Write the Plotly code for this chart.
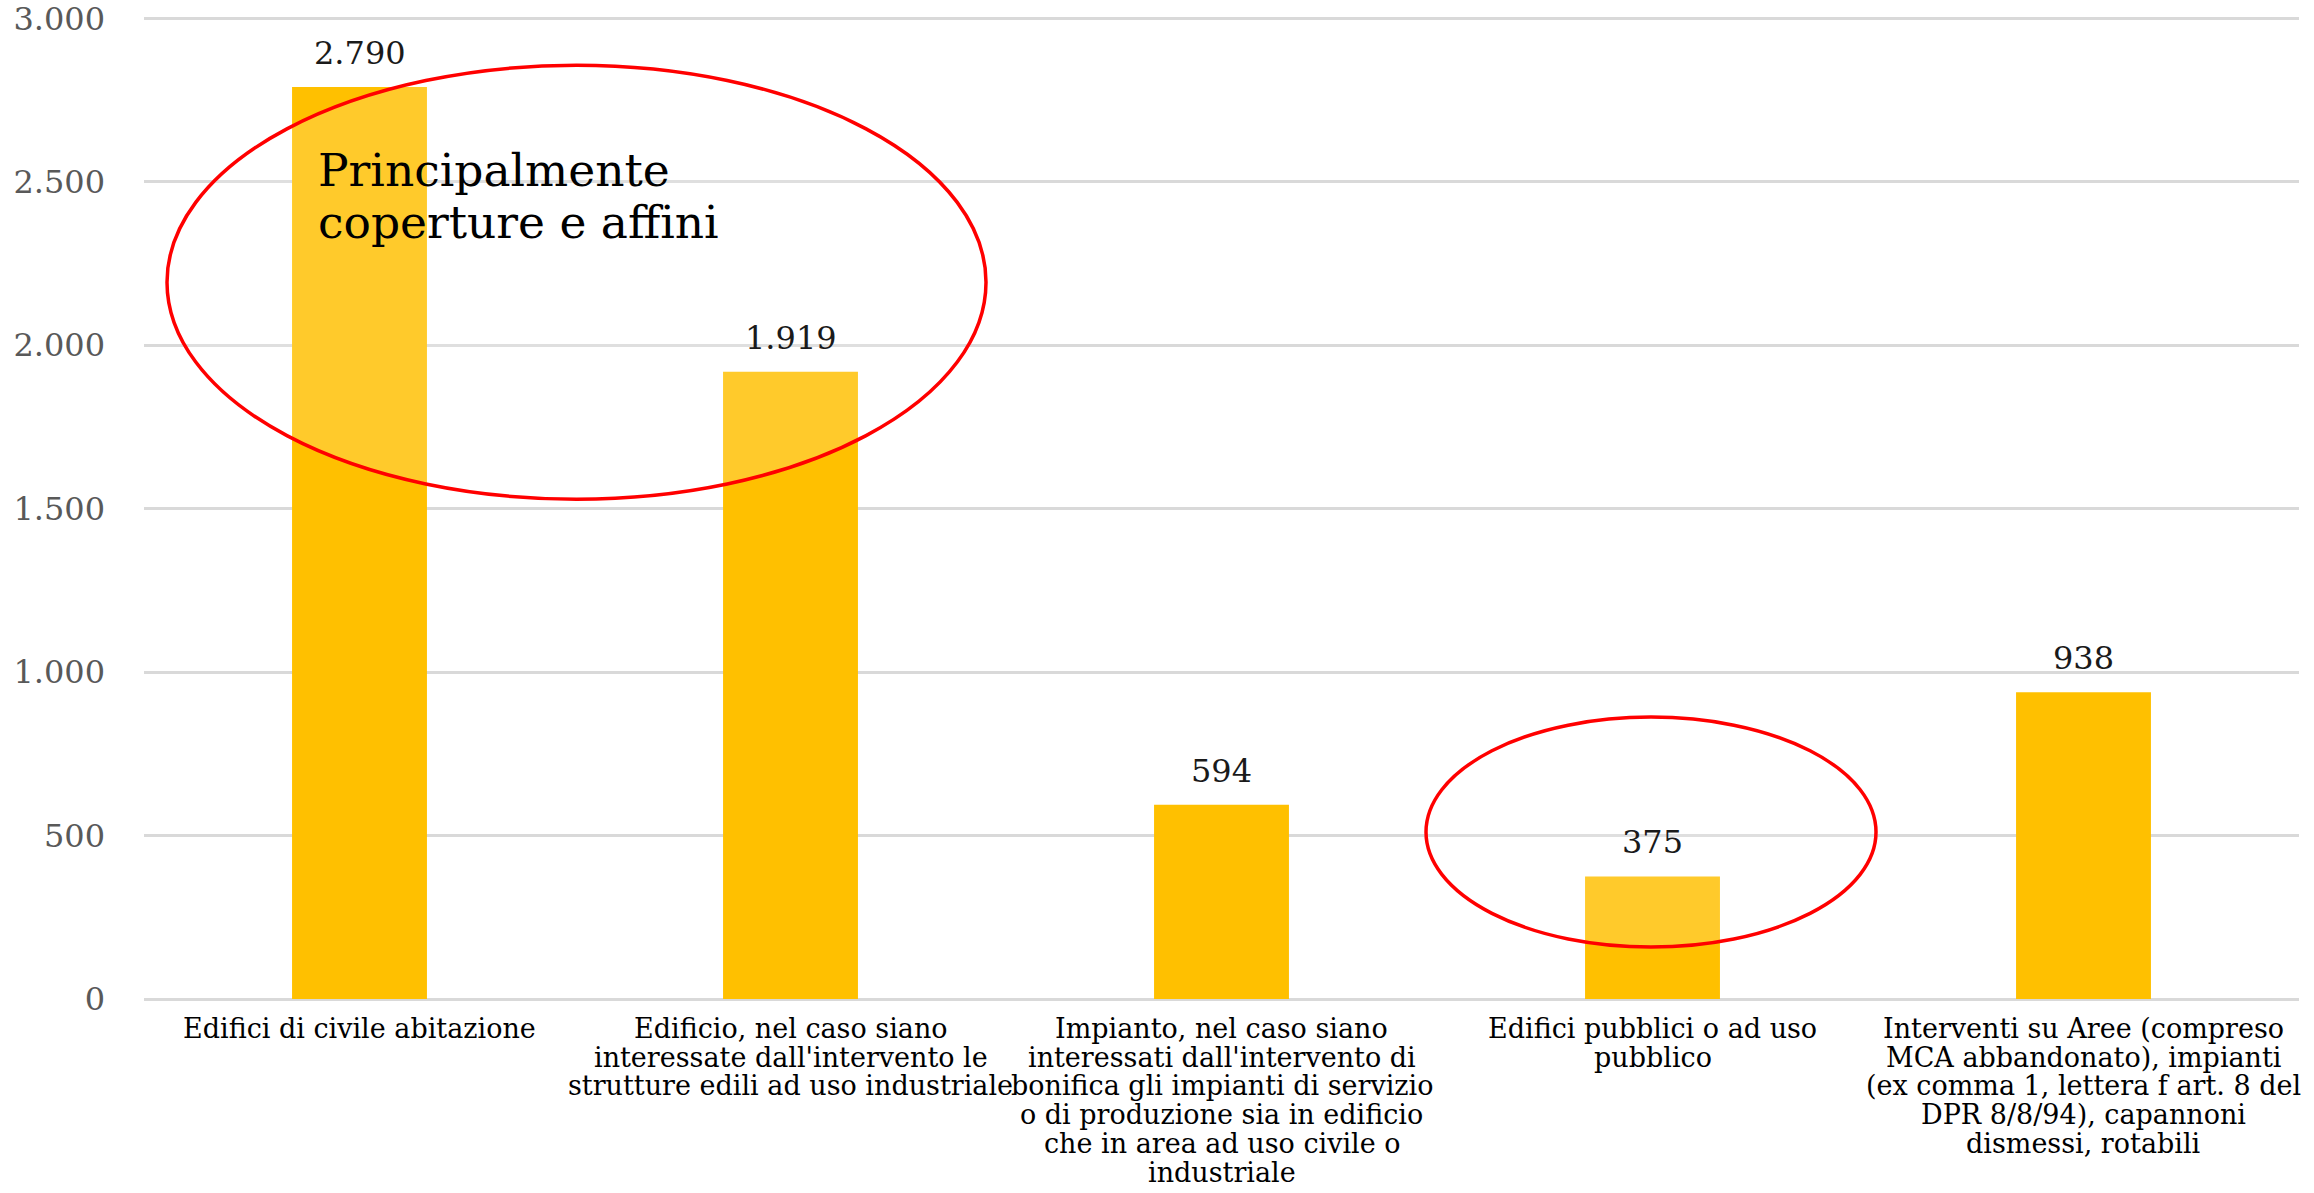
import plotly.graph_objects as go

# ---- data ----
categories = [
    "Edifici di civile abitazione",
    "Edificio, nel caso siano interessate dall'intervento le strutture edili ad uso industriale",
    "Impianto, nel caso siano interessati dall'intervento di bonifica gli impianti di servizio o di produzione sia in edificio che in area ad uso civile o industriale",
    "Edifici pubblici o ad uso pubblico",
    "Interventi su Aree (compreso MCA abbandonato), impianti (ex comma 1, lettera f art. 8 del DPR 8/8/94), capannoni dismessi, rotabili",
]
category_lines = [
    ["Edifici di civile abitazione"],
    ["Edificio, nel caso siano", "interessate dall'intervento le", "strutture edili ad uso industriale"],
    ["Impianto, nel caso siano", "interessati dall'intervento di", "bonifica gli impianti di servizio",
     "o di produzione sia in edificio", "che in area ad uso civile o", "industriale"],
    ["Edifici pubblici o ad uso", "pubblico"],
    ["Interventi su Aree (compreso", "MCA abbandonato), impianti", "(ex comma 1, lettera f art. 8 del",
     "DPR 8/8/94), capannoni", "dismessi, rotabili"],
]
values = [2790, 1919, 594, 375, 938]
y_tickvals = [0, 500, 1000, 1500, 2000, 2500, 3000]
y_ticktext = ["0", "500", "1.000", "1.500", "2.000", "2.500", "3.000"]
note_lines = ["Principalmente", "coperture e affini"]

# ---- style ----
FONT = "DejaVu Serif"
BAR = "#FFC000"
GRID = "#D9D9D9"

W, H = 2314, 1193
YMAX = 3004                      # small headroom so the 3.000 gridline is kept
ML, MR, MB = 144, 15, 194
PH = 981 * YMAX / 3000
MT = H - MB - PH
PW = W - ML - MR


def px_x(x):
    return (x - ML) / PW


def px_y(y):
    return (H - MB - y) / PH


fig = go.Figure()
fig.add_trace(go.Bar(
    x=categories, y=values,
    marker=dict(color=BAR, line=dict(width=0)),
    hoverinfo="x+y",
))

annotations = []
# data labels
for c, v in zip(categories, values):
    annotations.append(dict(
        x=c, y=v, xref="x", yref="y", text=f"{v:,}".replace(",", "."),
        showarrow=False, yanchor="bottom", xanchor="center", yshift=13,
        font=dict(family=FONT, size=32, color="#1a1a1a"),
    ))
# category labels (one annotation per line for tight line spacing)
PITCH = 28.7
for c, lines in zip(categories, category_lines):
    for i, ln in enumerate(lines):
        annotations.append(dict(
            x=c, y=0, xref="x", yref="y", text=ln, showarrow=False,
            yanchor="top", xanchor="center", yshift=-(12 + i * PITCH),
            font=dict(family=FONT, size=27, color="#000000"),
        ))
# callout text
annotations.append(dict(
    x=px_x(316), y=px_y(142), xref="paper", yref="paper", text=note_lines[0],
    showarrow=False, xanchor="left", yanchor="top", align="left",
    font=dict(family=FONT, size=45.5, color="#000000"),
))
annotations.append(dict(
    x=px_x(316), y=px_y(194), xref="paper", yref="paper", text=note_lines[1],
    showarrow=False, xanchor="left", yanchor="top", align="left",
    font=dict(family=FONT, size=45.5, color="#000000"),
))

shapes = [
    dict(type="circle", xref="paper", yref="paper",
         x0=px_x(167), x1=px_x(986), y0=px_y(499), y1=px_y(65),
         line=dict(color="#FF0000", width=3.5), fillcolor="rgba(255,255,255,0.17)", layer="above"),
    dict(type="circle", xref="paper", yref="paper",
         x0=px_x(1426), x1=px_x(1876), y0=px_y(947), y1=px_y(717),
         line=dict(color="#FF0000", width=3.5), fillcolor="rgba(255,255,255,0.17)", layer="above"),
]

fig.update_layout(
    width=W, height=H,
    margin=dict(l=ML, r=MR, t=MT, b=MB, pad=0, autoexpand=False),
    paper_bgcolor="white", plot_bgcolor="white",
    bargap=0.687,
    showlegend=False,
    annotations=annotations,
    shapes=shapes,
    font=dict(family=FONT),
)
fig.update_xaxes(
    type="category", range=[-0.5, 4.5], showticklabels=False, showgrid=False,
    showline=False, zeroline=False, ticks="", automargin=False,
)
fig.update_yaxes(
    range=[0, YMAX], tickvals=y_tickvals, ticktext=y_ticktext,
    showgrid=True, gridcolor=GRID, gridwidth=2.5,
    zeroline=True, zerolinecolor=GRID, zerolinewidth=2.5,
    showline=False, ticks="", ticklabelstandoff=38, ticklabeloverflow="allow",
    automargin=False,
    tickfont=dict(family=FONT, size=32, color="#595959"),
)

fig.write_html(
    "out.html",
    config={"displayModeBar": False},
    post_script="document.body.style.margin='0';document.body.style.padding='0';document.body.style.overflow='hidden';",
)
